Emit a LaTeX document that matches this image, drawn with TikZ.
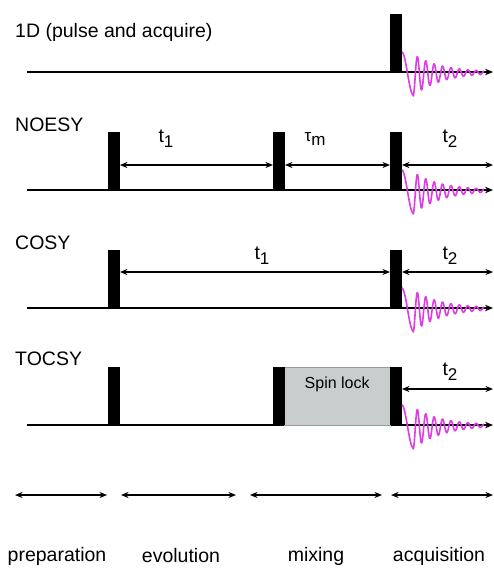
\documentclass[tikz,border=0pt]{standalone}
\usepackage{fontspec}
\setmainfont{Liberation Sans}
\usetikzlibrary{arrows.meta}
\definecolor{fidc}{RGB}{222,60,228}
\definecolor{lockgrey}{RGB}{200,205,205}
\newcommand{\sub}[1]{\raisebox{-0.45ex}{\fontsize{17}{17}\selectfont #1}}
\begin{document}
\begin{tikzpicture}[x=1pt,y=-1pt,
  every node/.style={font=\fontsize{19.5}{22}\selectfont},
  pulse/.style={fill=black, draw=none, minimum width=11.5pt, minimum height=58pt, inner sep=0pt, anchor=south west},
  base/.style={line width=2pt, -{Stealth[length=8pt,width=6.5pt]}},
  dim/.style={line width=1.8pt, {Stealth[length=7.5pt,width=6pt]}-{Stealth[length=7.5pt,width=6pt]}},
  fid/.style={draw=fidc, line width=1.6pt, line join=round},
  lbl/.style={inner sep=0pt, anchor=west},
  lock/.style={fill=lockgrey, draw=black!40, line width=0.4pt, minimum width=106pt, minimum height=58pt, inner sep=0pt, anchor=south west}
]
\useasboundingbox (0,0) rectangle (494,570);
% FID: first a swing from the pulse side down to the first trough, then a damped oscillation
\newcommand{\fidat}[1]{%
  \draw[fid, shift={(#1)}]
    plot[domain=0:11.3, samples=30] (\x, {-20*cos(15.93*\x)+0.265*\x})
    -- plot[domain=11.3:82, samples=300] (\x, {3*exp(-(\x-11.3)/40) + 21*exp(-(\x-11.3)/28)*cos(42.857*(\x-11.3))});}

% ---------- Row 1: 1D ----------
\node[lbl] (l1) at (15,32) {1D (pulse and acquire)};
\coordinate (b1s) at (27,72);
\coordinate (b1e) at (493,72);
\draw[base] (b1s) -- (b1e);
\node[pulse] (a1) at (390,72) {};
\fidat{a1.south east}

% ---------- Row 2: NOESY ----------
\node[lbl] (l2) at (15,125) {NOESY};
\coordinate (b2s) at (27,190);
\coordinate (b2e) at (493,190);
\draw[base] (b2s) -- (b2e);
\node[pulse] (n1) at (108,190) {};
\node[pulse] (n2) at (273,190) {};
\node[pulse] (n3) at (390,190) {};
\coordinate (n4) at (493,165);
\draw[dim] (n1.east |- 0,165) -- (n2.west |- 0,165);
\draw[dim] (n2.east |- 0,165) -- (n3.west |- 0,165);
\draw[dim] (n3.east |- 0,165) -- (n4);
\node (t1a) at (166,139) {t\sub{1}};
\node (tma) at (315,139) {\fontsize{17}{17}\selectfont τ\sub{m}};
\node (t2a) at (450,139) {t\sub{2}};
\fidat{n3.south east}

% ---------- Row 3: COSY ----------
\node[lbl] (l3) at (15,243) {COSY};
\coordinate (b3s) at (27,308);
\coordinate (b3e) at (493,308);
\draw[base] (b3s) -- (b3e);
\node[pulse] (c1) at (108,308) {};
\node[pulse] (c2) at (390,308) {};
\coordinate (c3) at (493,272);
\draw[dim] (c1.east |- 0,272) -- (c2.west |- 0,272);
\draw[dim] (c2.east |- 0,272) -- (c3);
\node (t1b) at (262,256) {t\sub{1}};
\node (t2b) at (450,256) {t\sub{2}};
\fidat{c2.south east}

% ---------- Row 4: TOCSY ----------
\node[lbl] (l4) at (15,359) {TOCSY};
\coordinate (b4s) at (27,425);
\coordinate (b4e) at (493,425);
\draw[base] (b4s) -- (b4e);
\node[pulse] (s1) at (108,425) {};
\node[lock] (box) at (284,425) {};
\node[pulse] (s2) at (273,425) {};
\node[pulse] (s3) at (390,425) {};
\node[font=\fontsize{16}{18}\selectfont] (sl) at (box.north |- 0,384) {Spin lock};
\coordinate (s4) at (493,389);
\draw[dim] (s3.east |- 0,389) -- (s4);
\node (t2c) at (450,372) {t\sub{2}};
\fidat{s3.south east}

% ---------- Bottom: periods ----------
\coordinate (p0) at (15,495);
\coordinate (p1) at (107,495);
\coordinate (p2) at (121,495);
\coordinate (p3) at (236,495);
\coordinate (p4) at (250,495);
\coordinate (p5) at (382,495);
\coordinate (p6) at (391,495);
\coordinate (p7) at (493,495);
\draw[dim] (p0) -- (p1);
\draw[dim] (p2) -- (p3);
\draw[dim] (p4) -- (p5);
\draw[dim] (p6) -- (p7);
\node (prep) at (57,556) {preparation};
\node (evol) at (181,556) {evolution};
\node (mix) at (316,556) {mixing};
\node (acq) at (439,556) {acquisition};
\end{tikzpicture}
\end{document}
